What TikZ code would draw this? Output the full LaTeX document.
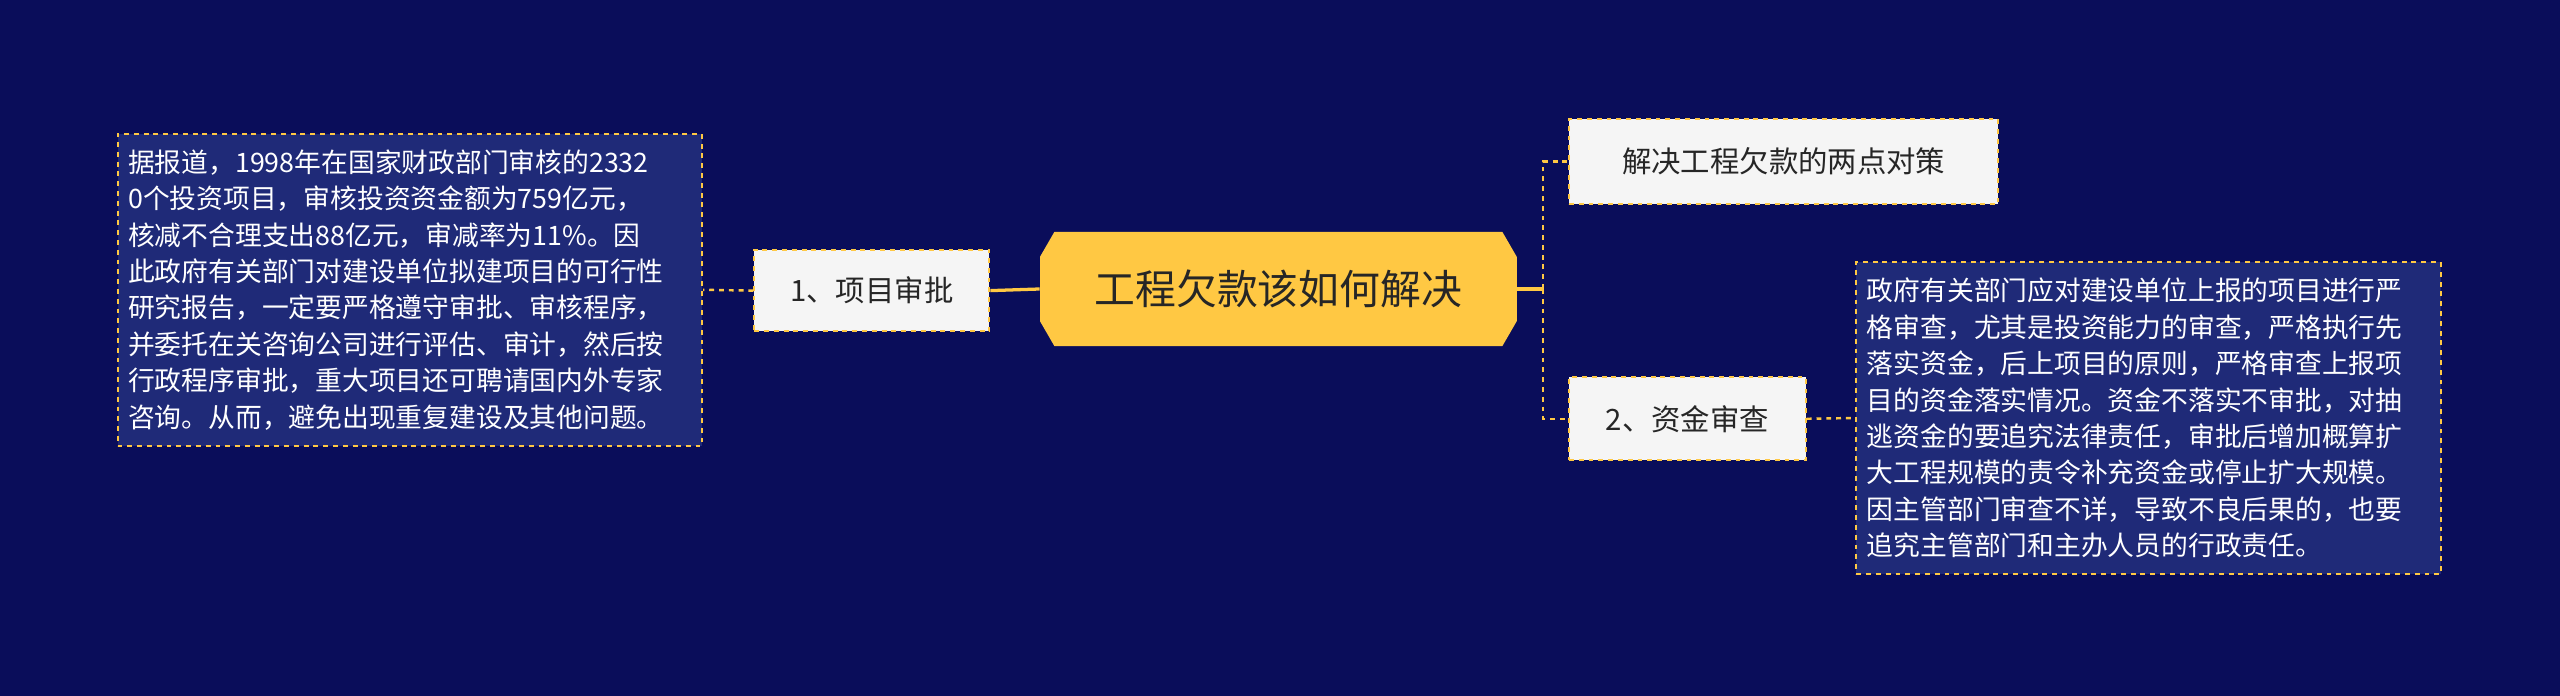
\documentclass[tikz,border=0pt]{standalone}
\usepackage{fontspec}
\setmainfont{Noto Sans CJK SC}
\usetikzlibrary{shapes.misc}
\definecolor{bg}{HTML}{0A0D5A}
\definecolor{gold}{HTML}{FFC843}
\definecolor{boxblue}{HTML}{1F2A78}
\definecolor{lightbox}{HTML}{F5F5F5}
\tikzset{
  x=1pt,y=-1pt,
  topic/.style={fill=lightbox,draw=gold,dashed,line width=1.2pt,inner sep=0pt,minimum height=50pt,font=\fontsize{18}{22}\selectfont,text=black!85},
  note/.style={fill=boxblue,draw=gold,dashed,line width=1.2pt,text=white,align=left,inner sep=0pt,text width=345pt,minimum width=358pt,minimum height=191pt,font=\fontsize{16.4}{22.3}\selectfont},
  link/.style={draw=gold,line width=1.5pt,dashed},
}
\begin{document}
\begin{tikzpicture}
\fill[bg] (0,0) rectangle (1568,426);
\useasboundingbox (0,0) rectangle (1568,426);
\node[chamfered rectangle,chamfered rectangle xsep=2cm,chamfered rectangle angle=30,fill=gold,minimum width=292pt,minimum height=70pt,inner sep=0pt,font=\fontsize{25}{30}\selectfont,text=black!85] (c) at (783,177) {工程欠款该如何解决};
\node[topic,minimum width=144pt] (a) at (534,178) {1、项目审批};
\node[note] (na) at (251,177.5) {据报道，1998年在国家财政部门审核的2332\\0个投资项目，审核投资资金额为759亿元，\\核减不合理支出88亿元，审减率为11\%。因\\此政府有关部门对建设单位拟建项目的可行性\\研究报告，一定要严格遵守审批、审核程序，\\并委托在关咨询公司进行评估、审计，然后按\\行政程序审批，重大项目还可聘请国内外专家\\咨询。从而，避免出现重复建设及其他问题。};
\node[topic,minimum width=263pt,minimum height=52pt] (t) at (1092.5,99) {解决工程欠款的两点对策};
\node[topic,minimum width=145pt,minimum height=51pt] (b) at (1033.5,256.5) {2、资金审查};
\node[note] (nb) at (1316,256) {政府有关部门应对建设单位上报的项目进行严\\格审查，尤其是投资能力的审查，严格执行先\\落实资金，后上项目的原则，严格审查上报项\\目的资金落实情况。资金不落实不审批，对抽\\逃资金的要追究法律责任，审批后增加概算扩\\大工程规模的责令补充资金或停止扩大规模。\\因主管部门审查不详，导致不良后果的，也要\\追究主管部门和主办人员的行政责任。};
\coordinate (j) at (945,177);
\draw[draw=gold,line width=2pt] (c.west) -- (a.east);
\draw[link] (a.west) -- (na.east);
\draw[draw=gold,line width=2pt] (c.east) -- (j);
\draw[link] (j) |- (t.west);
\draw[link] (j) |- (b.west);
\draw[link] (b.east) -- (nb.west);
\end{tikzpicture}
\end{document}
